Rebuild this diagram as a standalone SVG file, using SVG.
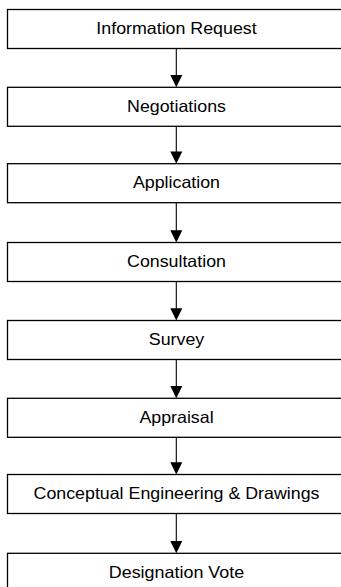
<svg xmlns="http://www.w3.org/2000/svg" width="341" height="587" viewBox="0 0 341 587">
<style>
.box{fill:#fff;stroke:#000;stroke-width:1.3}
.lbl{font-family:"Liberation Sans",Arial,sans-serif;font-size:16.5px;fill:#000;text-anchor:middle}
.con{stroke:#000;stroke-width:1.1;fill:none}
.head{fill:#000}
</style>
<rect width="341" height="587" fill="#fff"/>
<g id="connectors">
<path class="con" d="M176.3,48.5 V80"/>
<path class="con" d="M176.3,126.3 V155"/>
<path class="con" d="M176.3,202.7 V234"/>
<path class="con" d="M176.3,281.5 V312"/>
<path class="con" d="M176.3,359.5 V390"/>
<path class="con" d="M176.3,437.3 V466"/>
<path class="con" d="M176.3,513.5 V545"/>
<polygon class="head" points="170.3,75 182.3,75 176.3,87.3"/>
<polygon class="head" points="170.3,151.4 182.3,151.4 176.3,163.7"/>
<polygon class="head" points="170.3,230.2 182.3,230.2 176.3,242.5"/>
<polygon class="head" points="170.3,308.2 182.3,308.2 176.3,320.5"/>
<polygon class="head" points="170.3,386 182.3,386 176.3,398.3"/>
<polygon class="head" points="170.3,462.2 182.3,462.2 176.3,474.5"/>
<polygon class="head" points="170.3,541 182.3,541 176.3,553.3"/>
</g>
<g id="n1"><rect class="box" x="7.5" y="9.5" width="338" height="39"/><text class="lbl" x="176.5" y="34" textLength="160.3" lengthAdjust="spacingAndGlyphs">Information Request</text></g>
<g id="n2"><rect class="box" x="7.5" y="87.3" width="338" height="39"/><text class="lbl" x="176.5" y="111.8" textLength="98.9" lengthAdjust="spacingAndGlyphs">Negotiations</text></g>
<g id="n3"><rect class="box" x="7.5" y="163.7" width="338" height="39"/><text class="lbl" x="176.5" y="188.2" textLength="87.1" lengthAdjust="spacingAndGlyphs">Application</text></g>
<g id="n4"><rect class="box" x="7.5" y="242.5" width="338" height="39"/><text class="lbl" x="176.5" y="267" textLength="98.9" lengthAdjust="spacingAndGlyphs">Consultation</text></g>
<g id="n5"><rect class="box" x="7.5" y="320.5" width="338" height="39"/><text class="lbl" x="176.5" y="345" textLength="55.4" lengthAdjust="spacingAndGlyphs">Survey</text></g>
<g id="n6"><rect class="box" x="7.5" y="398.3" width="338" height="39"/><text class="lbl" x="176.5" y="422.8" textLength="74.2" lengthAdjust="spacingAndGlyphs">Appraisal</text></g>
<g id="n7"><rect class="box" x="7.5" y="474.5" width="338" height="39"/><text class="lbl" x="176.5" y="499" textLength="285.9" lengthAdjust="spacingAndGlyphs">Conceptual Engineering &amp; Drawings</text></g>
<g id="n8"><rect class="box" x="7.5" y="553.3" width="338" height="39"/><text class="lbl" x="176.5" y="577.8" textLength="135.5" lengthAdjust="spacingAndGlyphs">Designation Vote</text></g>
</svg>
